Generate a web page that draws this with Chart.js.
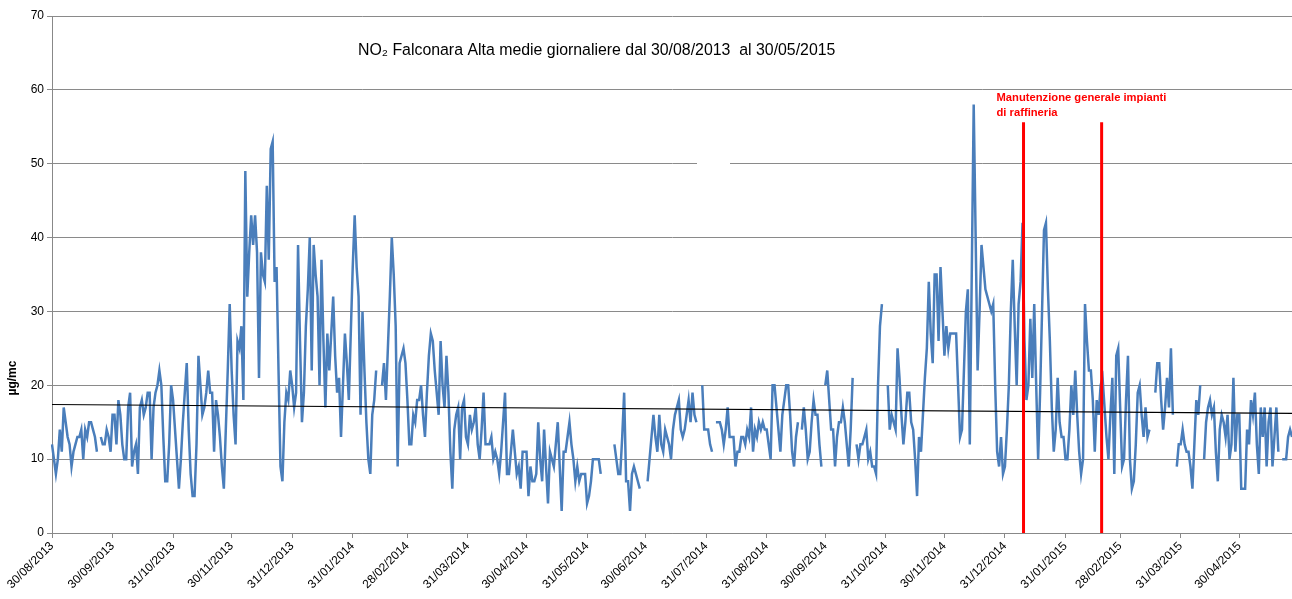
<!DOCTYPE html>
<html>
<head>
<meta charset="utf-8">
<script src="https://cdn.jsdelivr.net/npm/chart.js@4.4.1/dist/chart.umd.min.js"></script>
<style>
  html, body { margin: 0; padding: 0; background: #fff; }
  #wrap { width: 1292px; height: 599px; }
</style>
</head>
<body>
<div id="wrap"><canvas id="myChart" width="1292" height="599"></canvas></div>
<script>
const chartTitle = 'NO\u2082 Falconara Alta medie giornaliere dal 30/08/2013  al 30/05/2015'
const yTitle = '\u00b5g/mc'
const firstDay = '30/08/2013'
const tickLabels = ['30/08/2013', '30/09/2013', '31/10/2013', '30/11/2013', '31/12/2013', '31/01/2014', '28/02/2014',
  '31/03/2014', '30/04/2014', '31/05/2014', '30/06/2014', '31/07/2014', '31/08/2014', '30/09/2014', '31/10/2014',
  '30/11/2014', '31/12/2014', '31/01/2015', '28/02/2015', '31/03/2015', '30/04/2015']

// daily means (µg/mc), one per day from 30/08/2013, null = no data
const no2 = [
  12, 10, 8, 10, 14, 11, 17, 15, 13, 12,
  9, 11, 12, 13, 13, 14, 10, 14, 13, 15,
  15, 14, 13, 11, null, 13, 12, 12, 14, 13,
  11, 16, 16, 12, 18, 16, 12, 10, 10, 17,
  19, 9, 11, 12, 8, 17, 18, 16, 17, 19,
  19, 10, 17, 19, 20, 22, 20, 13, 7, 7,
  12, 20, 18, 14, 10, 6, 10, 15, 19, 23,
  14, 8, 5, 5, 12, 24, 20, 16, 17, 19,
  22, 19, 19, 11, 18, 16, 13, 9, 6, 14,
  22, 31, 22, 16, 12, 26, 25, 28, 18, 49,
  32, 38, 43, 39, 43, 38, 21, 38, 35, 34,
  47, 37, 52, 53, 34, 36, 22, 9, 7, 15,
  19, 18, 22, 20, 17, 19, 39, 26, 15, 19,
  28, 33, 40, 22, 39, 35, 32, 20, 37, 26,
  17, 27, 22, 27, 32, 24, 19, 21, 13, 20,
  27, 23, 18, 27, 36, 43, 36, 32, 16, 30,
  22, 15, 10, 8, 16, 18, 22, null, null, 20,
  23, 18, 25, 32, 40, 35, 28, 9, 23, 24,
  25, 23, 18, 12, 12, 16, 15, 18, 18, 20,
  16, 13, 19, 24, 27, 26, 22, 19, 16, 26,
  20, 17, 24, 19, 11, 6, 14, 16, 17, 10,
  17, 18, 13, 12, 16, 14, 15, 17, 12, 10,
  14, 19, 12, 12, 12, 13, 10, 11, 10, 8,
  11, 15, 19, 8, 8, 11, 14, 11, 8, 9,
  6, 11, 11, 11, 5, 9, 7, 7, 8, 15,
  10, 7, 14, 9, 4, 11, 10, 9, 12, 15,
  9, 3, 11, 11, 13, 15, 12, 10, 7, 9,
  7, 8, 8, 8, 4, 5, 7, 10, 10, 10,
  10, 8, null, null, null, null, null, null, 12, 10,
  8, 8, 13, 19, 7, 7, 3, 8, 9, 8,
  7, 6, null, null, null, 7, 10, 13, 16, 13,
  11, 16, 12, 11, 14, 13, 12, 10, 14, 16,
  17, 18, 14, 13, 14, 16, 18, 15, 19, 16,
  15, null, null, 20, 14, 14, 14, 12, 11, null,
  15, 15, 15, 14, 12, 14, 17, 13, 13, 13,
  9, 11, 11, 13, 13, 12, 14, 13, 17, 11,
  14, 13, 15, 14, 15, 14, 14, 12, 10, 20,
  20, 17, 14, 11, 16, 18, 20, 20, 16, 11,
  9, 13, 15, null, 14, 17, 14, 10, 11, 15,
  18, 16, 16, 12, 9, null, 20, 22, 18, 14,
  14, 9, 13, 15, 15, 17, 15, 12, 9, 14,
  21, null, 12, 10, 12, 12, 13, 14, 10, 11,
  9, 9, 8, 20, 28, 31, null, null, 20, 14,
  16, 15, 14, 25, 21, 16, 12, 15, 19, 19,
  15, 14, 10, 5, 13, 11, 16, 21, 25, 34,
  27, 23, 35, 35, 26, 36, 30, 24, 28, 25,
  27, 27, 27, 27, 20, 13, 14, 22, 30, 33,
  12, 35, 58, 40, 22, 30, 39, 36, 33, 32,
  31, 30, 31, 20, 11, 9, 13, 8, 9, 14,
  20, 30, 37, 28, 20, 31, 34, 42, 26, 18,
  20, 29, 21, 31, 20, 10, 19, 30, 41, 42,
  33, 26, 17, 11, 14, 21, 15, 13, 13, 10,
  10, 14, 20, 16, 22, 16, 11, 8, 10, 31,
  26, 22, 22, 18, 11, 18, 16, 20, 21, 17,
  13, 10, 16, 21, 8, 24, 25, 17, 9, 10,
  18, 24, 10, 6, 7, 12, 19, 20, 16, 13,
  17, 13, 14, null, null, 19, 23, 23, 18, 14,
  17, 21, 17, 25, 16, null, 9, 12, 12, 14,
  12, 11, 11, 9, 6, 12, 18, 16, 20, null,
  10, 15, 17, 18, 16, 17, 11, 7, 14, 16,
  15, 13, 16, 10, 12, 21, 11, 16, 16, 6,
  6, 6, 14, 12, 18, 16, 19, 12, 8, 17,
  13, 17, 9, 15, 17, 9, 13, 17, 11, null,
  10, 10, 10, 13, 14, 13
]

// linear trend, value at first and last day
const trendStart = 17.4
const trendEnd = 16.2

const maintenanceDates = ['09/01/2015', '18/02/2015']
const maintenanceTop = 55.6
const maintenanceText = ['Manutenzione generale impianti', 'di raffineria']

const fontFamily = '"Liberation Sans", Arial, sans-serif'

// one label per day
const labels = []
const [d0, m0, y0] = firstDay.split('/').map(Number)
for (let i = 0; i < no2.length; i++) {
  const d = new Date(Date.UTC(y0, m0 - 1, d0 + i))
  const dd = String(d.getUTCDate()).padStart(2, '0')
  const mm = String(d.getUTCMonth() + 1).padStart(2, '0')
  labels.push(dd + '/' + mm + '/' + d.getUTCFullYear())
}
const tickSet = new Set(tickLabels)

const trend = no2.map((v, i) => i === 0 ? trendStart : (i === no2.length - 1 ? trendEnd : null))

function fitFont (ctx, text, weight, target) {
  ctx.font = weight + ' 20px ' + fontFamily
  const size = 20 * target / ctx.measureText(text).width
  ctx.font = weight + ' ' + size.toFixed(2) + 'px ' + fontFamily
}

const decorations = {
  id: 'decorations',
  beforeDatasetsDraw (chart) {
    const { ctx, scales: { x, y } } = chart
    // small break in the 50 gridline
    ctx.save()
    ctx.strokeStyle = '#fff'
    ctx.lineWidth = 3
    ctx.beginPath()
    ctx.moveTo(x.getPixelForValue(330.3), y.getPixelForValue(50))
    ctx.lineTo(x.getPixelForValue(347.2), y.getPixelForValue(50))
    ctx.stroke()
    ctx.restore()
  },
  afterDraw (chart) {
    const { ctx, scales: { x, y } } = chart
    ctx.save()
    // title
    ctx.fillStyle = '#000'
    ctx.textBaseline = 'middle'
    ctx.textAlign = 'left'
    fitFont(ctx, chartTitle, 'normal', 478)
    ctx.fillText(chartTitle, 358, 51)

    // y axis title
    ctx.save()
    ctx.translate(13, 378)
    ctx.rotate(-Math.PI / 2)
    ctx.textAlign = 'center'
    ctx.font = 'bold 12px ' + fontFamily
    ctx.fillText(yTitle, 0, 0)
    ctx.restore()

    // maintenance lines
    ctx.strokeStyle = '#ff0000'
    ctx.lineWidth = 3
    const xs = maintenanceDates.map(d => x.getPixelForValue(labels.indexOf(d)) + 1)
    xs.forEach(px => {
      ctx.beginPath()
      ctx.moveTo(px, y.getPixelForValue(maintenanceTop))
      ctx.lineTo(px, y.getPixelForValue(0))
      ctx.stroke()
    })
    ctx.fillStyle = '#ff0000'
    fitFont(ctx, maintenanceText[0], 'bold', 170)
    ctx.fillText(maintenanceText[0], xs[0] - 27, 98)
    ctx.fillText(maintenanceText[1], xs[0] - 27, 113)
    ctx.restore()
  }
}

Chart.defaults.font.family = fontFamily

new Chart(document.getElementById('myChart').getContext('2d'), {
  type: 'line',
  data: {
    labels: labels,
    datasets: [
      {
        label: 'trend',
        data: trend,
        borderColor: '#000',
        borderWidth: 1.2,
        pointRadius: 0,
        spanGaps: true
      },
      {
        label: 'NO2',
        data: no2,
        borderColor: '#4a7ebb',
        borderWidth: 2.5,
        pointRadius: 0,
        tension: 0,
        spanGaps: false
      }
    ]
  },
  options: {
    responsive: false,
    animation: false,
    devicePixelRatio: 1,
    layout: { padding: { top: 16, right: 0, left: 0, bottom: 0 } },
    plugins: {
      legend: { display: false },
      tooltip: { enabled: false },
      title: { display: false }
    },
    scales: {
      x: {
        type: 'category',
        afterBuildTicks: s => { s.ticks = s.ticks.filter(t => tickSet.has(labels[t.value])) },
        afterFit: s => { s.height = 66 },
        ticks: {
          autoSkip: false,
          minRotation: 45,
          maxRotation: 45,
          color: '#000',
          padding: 1,
          font: { size: 12 }
        },
        grid: { drawOnChartArea: false, drawTicks: true, tickLength: 5, color: '#888' },
        border: { color: '#888' }
      },
      y: {
        min: 0,
        max: 70,
        afterFit: s => { s.width = 52 },
        ticks: { stepSize: 10, color: '#000', padding: 3, font: { size: 12 } },
        grid: { color: '#8a8a8a', tickLength: 5 },
        border: { color: '#888' }
      }
    }
  },
  plugins: [decorations]
})
</script>
</body>
</html>
